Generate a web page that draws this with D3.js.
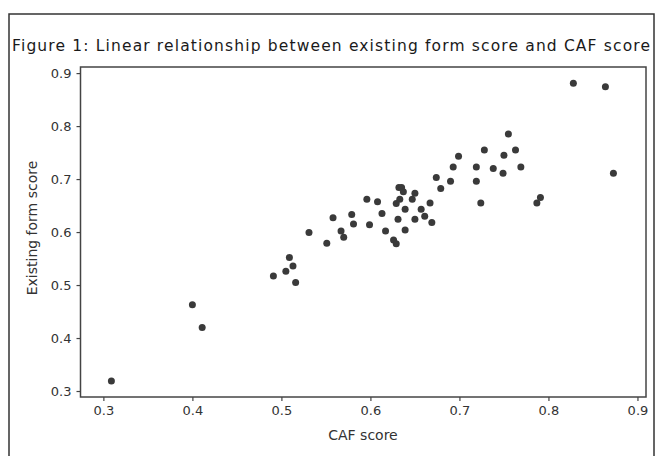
<!DOCTYPE html>
<html lang="en">
<head>
  <meta charset="UTF-8">
  <title>Figure 1</title>
  <script src="https://d3js.org/d3.v7.min.js"></script>
  <style>
    body { margin: 0; background: #fff; font-family: "DejaVu Sans", Verdana, sans-serif; }
    .axis text { font-size: 13px; fill: #333; font-family: "DejaVu Sans", sans-serif; }
    .axis path, .axis line { stroke: #444; stroke-width: 1.2; }
  </style>
</head>
<body>
<div id="chart"></div>
<script>
  // CAF score vs existing form score
  const cafScore = [0.309, 0.400, 0.411, 0.491, 0.509, 0.513, 0.505, 0.516, 0.531,
    0.551, 0.558, 0.567, 0.570, 0.579, 0.581, 0.596, 0.599, 0.608, 0.613, 0.617,
    0.626, 0.629, 0.629, 0.631, 0.632, 0.635, 0.637, 0.633, 0.647, 0.650, 0.639,
    0.650, 0.657, 0.667, 0.639, 0.661, 0.669, 0.674, 0.679, 0.690, 0.693, 0.699,
    0.719, 0.719, 0.728, 0.724, 0.738, 0.750, 0.749, 0.755, 0.763, 0.769, 0.787,
    0.791, 0.828, 0.864, 0.873];
  const formScore = [0.319, 0.463, 0.420, 0.517, 0.552, 0.536, 0.526, 0.505, 0.599,
    0.579, 0.627, 0.602, 0.590, 0.633, 0.615, 0.662, 0.614, 0.657, 0.635, 0.602,
    0.585, 0.578, 0.654, 0.624, 0.684, 0.684, 0.676, 0.662, 0.662, 0.673, 0.643,
    0.624, 0.643, 0.655, 0.604, 0.630, 0.618, 0.703, 0.682, 0.696, 0.723, 0.743,
    0.723, 0.696, 0.755, 0.655, 0.720, 0.745, 0.711, 0.785, 0.755, 0.723, 0.655,
    0.665, 0.881, 0.874, 0.711];
  const xTicks = [0.3, 0.4, 0.5, 0.6, 0.7, 0.8, 0.9];
  const yTicks = [0.3, 0.4, 0.5, 0.6, 0.7, 0.8, 0.9];

  const width = 659, height = 456;
  const plotL = 80.5, plotR = 646, plotT = 67, plotB = 397;

  const svg = d3.select("#chart").append("svg")
    .attr("width", width).attr("height", height);

  // outer border
  svg.append("rect")
    .attr("x", 9).attr("y", 14).attr("width", 645).attr("height", 470)
    .attr("fill", "none").attr("stroke", "#333").attr("stroke-width", 1.5);

  svg.append("text")
    .attr("x", 12).attr("y", 51)
    .attr("font-size", 15.5).attr("fill", "#1a1a1a")
    .attr("textLength", 638).attr("lengthAdjust", "spacing")
    .text("Figure 1: Linear relationship between existing form score and CAF score");

  const x = d3.scaleLinear().domain([0.2743, 0.9096]).range([plotL, plotR]);
  const y = d3.scaleLinear().domain([0.2887, 0.9115]).range([plotB, plotT]);

  svg.append("rect")
    .attr("x", plotL).attr("y", plotT)
    .attr("width", plotR - plotL).attr("height", plotB - plotT)
    .attr("fill", "none").attr("stroke", "#444").attr("stroke-width", 1.5);

  svg.append("g").attr("class", "axis")
    .attr("transform", `translate(0,${plotB})`)
    .call(d3.axisBottom(x).tickValues(xTicks).tickSize(4).tickPadding(5).tickFormat(d3.format(".1f")))
    .call(g => g.select(".domain").remove());

  svg.append("g").attr("class", "axis")
    .attr("transform", `translate(${plotL},0)`)
    .call(d3.axisLeft(y).tickValues(yTicks).tickSize(4).tickPadding(5).tickFormat(d3.format(".1f")))
    .call(g => g.select(".domain").remove());

  svg.append("text")
    .attr("x", 363).attr("y", 440)
    .attr("text-anchor", "middle").attr("font-size", 14).attr("fill", "#333")
    .text("CAF score");

  svg.append("text")
    .attr("transform", `translate(37,228) rotate(-90)`)
    .attr("text-anchor", "middle").attr("font-size", 14).attr("fill", "#333")
    .text("Existing form score");

  svg.append("g").selectAll("circle")
    .data(d3.range(cafScore.length))
    .join("circle")
    .attr("cx", i => x(cafScore[i]))
    .attr("cy", i => y(formScore[i]))
    .attr("r", 3.5)
    .attr("fill", "#3a3a3a");
</script>
</body>
</html>
